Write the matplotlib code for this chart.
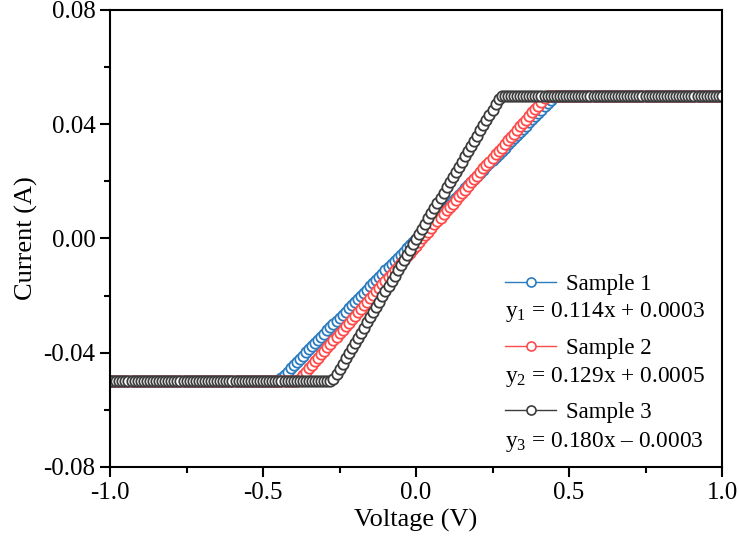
import numpy as np
import matplotlib
matplotlib.use('Agg')
import matplotlib.pyplot as plt
from matplotlib import rcParams
from matplotlib.ticker import MultipleLocator

rcParams['font.family'] = 'serif'
rcParams['font.serif'] = ['Liberation Serif', 'DejaVu Serif']
rcParams['mathtext.fontset'] = 'custom'
rcParams['mathtext.rm'] = 'Liberation Serif'
rcParams['mathtext.it'] = 'Liberation Serif:italic'
rcParams['axes.unicode_minus'] = False

# Voltage sweep, -1 V to 1 V in 10 mV steps (201 points)
voltage = np.linspace(-1.0, 1.0, 201)

# Currents, in mA (compliance at +/-50 mA)
current_1 = ([-50.0] * 55 + [
    -49.9, -48.8, -47.7, -46.6, -45.5, -44.4, -43.3, -42.2, -41.0, -39.9,
    -38.8, -37.7, -36.6, -35.5, -34.4, -33.3, -32.2, -31.1, -30.0, -28.9,
    -27.8, -26.7, -25.6, -24.5, -23.4, -22.3, -21.2, -20.1, -19.0, -17.9,
    -16.8, -15.7, -14.6, -13.4, -12.3, -11.2, -10.1, -9.0, -7.9, -6.8,
    -5.7, -4.6, -3.5, -2.4, -1.3, -0.2, 0.9, 2.0, 3.1, 4.2,
    5.3, 6.4, 7.5, 8.6, 9.7, 10.8, 11.9, 13.0, 14.2, 15.3,
    16.4, 17.5, 18.6, 19.7, 20.8, 21.9, 23.0, 24.1, 25.2, 26.3,
    27.4, 28.5, 29.6, 30.7, 31.8, 32.9, 34.0, 35.1, 36.2, 37.3,
    38.4, 39.5, 40.6, 41.8, 42.9, 44.0, 45.1, 46.2, 47.3, 48.4,
    49.5] + [50.0] * 55)

current_2 = ([-50.0] * 62 + [
    -49.1, -47.8, -46.6, -45.4, -44.2, -42.9, -41.7, -40.5, -39.3, -38.0,
    -36.8, -35.6, -34.4, -33.1, -31.9, -30.7, -29.5, -28.2, -27.0, -25.8,
    -24.6, -23.3, -22.1, -20.9, -19.7, -18.4, -17.2, -16.0, -14.8, -13.5,
    -12.3, -11.1, -9.9, -8.6, -7.4, -6.2, -5.0, -3.7, -2.5, -1.3,
    0.0, 1.2, 2.4, 3.6, 4.9, 6.1, 7.3, 8.5, 9.8, 11.0,
    12.2, 13.4, 14.7, 15.9, 17.1, 18.3, 19.6, 20.8, 22.0, 23.2,
    24.5, 25.7, 26.9, 28.1, 29.4, 30.6, 31.8, 33.0, 34.3, 35.5,
    36.7, 37.9, 39.2, 40.4, 41.6, 42.8, 44.1, 45.3, 46.5, 47.7,
    49.0] + [50.0] * 58)

current_3 = ([-50.0] * 73 + [
    -49.3, -47.5, -45.7, -43.9, -42.0, -40.2, -38.4, -36.6, -34.8, -33.0,
    -31.2, -29.3, -27.5, -25.7, -23.9, -22.1, -20.3, -18.5, -16.6, -14.8,
    -13.0, -11.2, -9.4, -7.6, -5.7, -3.9, -2.1, -0.3, 1.5, 3.3,
    5.1, 7.0, 8.8, 10.6, 12.4, 14.2, 16.0, 17.9, 19.7, 21.5,
    23.3, 25.1, 26.9, 28.7, 30.6, 32.4, 34.2, 36.0, 37.8, 39.6,
    41.4, 43.3, 45.1, 46.9, 48.7] + [50.0] * 73)

labels = ['Sample 1', 'Sample 2', 'Sample 3']
fits = ['y$_1$ = 0.114x + 0.0003', 'y$_2$ = 0.129x + 0.0005', 'y$_3$ = 0.180x \u2013 0.0003']
colors = ['#2b7bbf', '#ff4a4a', '#3c3c3c']

fig = plt.figure(figsize=(7.39, 5.5), dpi=100)
ax = fig.add_axes([0.149, 0.151, 0.828, 0.831])

for cur, lab, col in zip([current_1, current_2, current_3], labels, colors):
    ax.plot(voltage, np.array(cur) / 1000.0, '-o', color=col, label=lab,
            linewidth=1.0, markersize=7.5, markerfacecolor='white',
            markeredgewidth=1.3, markeredgecolor=col)

ax.set_xlim(-1.0, 1.0)
ax.set_ylim(-0.08, 0.08)
ax.xaxis.set_major_locator(MultipleLocator(0.5))
ax.xaxis.set_minor_locator(MultipleLocator(0.25))
ax.yaxis.set_major_locator(MultipleLocator(0.04))
ax.yaxis.set_minor_locator(MultipleLocator(0.02))
ax.set_xticklabels([f'{v:.1f}' for v in ax.get_xticks()])
ax.set_yticklabels([f'{v:.2f}' for v in ax.get_yticks()])
ax.tick_params(which='both', direction='out', width=1.5, labelsize=18, top=False, right=False)
ax.tick_params(which='major', length=7)
ax.tick_params(which='minor', length=4)
for sp in ax.spines.values():
    sp.set_linewidth(1.5)

ax.set_xlabel('Voltage (V)', fontsize=19, labelpad=4)
ax.set_ylabel('Current (A)', fontsize=19, labelpad=4)

leg = ax.legend(loc='upper left', bbox_to_anchor=(0.645, 0.423), frameon=False,
                fontsize=16.5, numpoints=1, handlelength=2.25, handletextpad=0.4,
                borderpad=0, borderaxespad=0, labelspacing=1.88)
for h in leg.legend_handles:
    h.set_markersize(6.5)
    h.set_markeredgewidth(1.2)

for i, txt in enumerate(fits):
    ax.text(0.645, [0.339, 0.197, 0.055][i], txt, transform=ax.transAxes,
            fontsize=16.8, va='center', ha='left')

fig.savefig('out.png', dpi=100)
